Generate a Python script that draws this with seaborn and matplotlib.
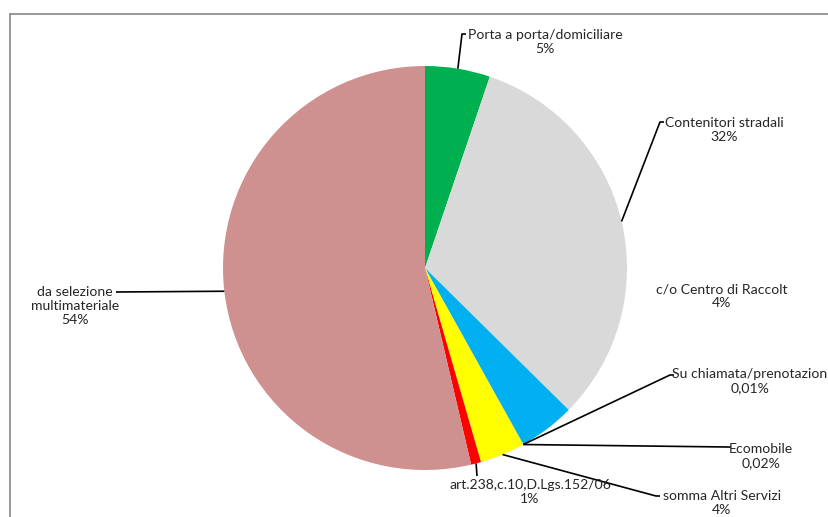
import numpy as np
import matplotlib
matplotlib.use("Agg")
import matplotlib.pyplot as plt
import seaborn as sns

# slices, clockwise from 12 o'clock
categories = ["Porta a porta/domiciliare", "Contenitori stradali", "c/o Centro di Raccolt",
              "Su chiamata/prenotazion", "Ecomobile", "somma Altri Servizi",
              "art.238,c.10,D.Lgs.152/06", "da selezione\nmultimateriale"]
values = [5.2, 32.2, 4.5, 0.01, 0.02, 3.6, 0.8, 53.67]
pct_labels = ["5%", "32%", "4%", "0,01%", "0,02%", "4%", "1%", "54%"]
colors = ["#00B050", "#D9D9D9", "#00B0F0", "#FFC000", "#7F7F7F", "#FFFF00", "#FF0000", "#CF918F"]

sns.set_theme(style="white")
plt.rcParams['font.family'] = ['Lato', 'DejaVu Sans']

W, H = 829, 517
cx, cy, R = 425, 268, 202

fig = plt.figure(figsize=(W / 100, H / 100), dpi=100)
ax = fig.add_axes([0, 0, 1, 1])


def px(x, y):
    return (x - cx) / R, (cy - y) / R


wedges, _ = ax.pie(values, colors=colors, startangle=90, counterclock=False,
                   radius=1, center=(0, 0), wedgeprops=dict(linewidth=0),
                   frame=True)
ax.set_xlim((0 - cx) / R, (W - cx) / R)
ax.set_ylim((cy - H) / R, cy / R)
ax.set_aspect("equal")
ax.axis("off")

# label text centre, leader end (pixel), tick direction (+1 right, 0 none)
text_pos = [(545, 42), (724, 130), (722, 296), (750, 381), (761, 456), (722, 503), (530, 492), (75, 306)]
leader_end = [(462, 34), (660, 122), None, (670, 375), (727, 447), (656, 496), (477, 476), (116, 292)]
tick_dir = [1, 1, 0, 1, 1, 1, 0, 0]

for i, w in enumerate(wedges):
    txt = categories[i] + "\n" + pct_labels[i]
    tx, ty = px(*text_pos[i])
    ax.text(tx, ty, txt, ha="center", va="center", multialignment="center",
            fontsize=10.1, color="#262626", linespacing=1.2)
    if leader_end[i] is None:
        continue
    mid = np.deg2rad((w.theta1 + w.theta2) / 2)
    sx, sy = np.cos(mid), np.sin(mid)
    ex, ey = px(*leader_end[i])
    xs, ys = [sx, ex], [sy, ey]
    if tick_dir[i]:
        xs.append(ex + tick_dir[i] * 4 / R)
        ys.append(ey)
    ax.plot(xs, ys, color="black", lw=1.2, solid_capstyle="butt")

# chart area frame (extends past the right/bottom edges)
ax.plot([px(10, 0)[0], px(10, H)[0]], [px(10, 14)[1], px(10, H)[1]], color="#868686", lw=1.2)
ax.plot([px(10, 0)[0], px(W, 0)[0]], [px(0, 14)[1], px(0, 14)[1]], color="#868686", lw=1.2)

fig.savefig("out.png", dpi=100)
